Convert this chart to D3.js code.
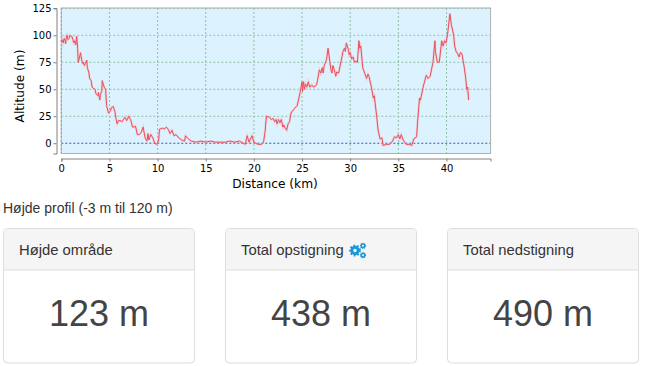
<!DOCTYPE html>
<html><head><meta charset="utf-8">
<script src="https://cdn.jsdelivr.net/npm/d3@7/dist/d3.min.js"></script>
<style>
html,body{margin:0;padding:0;background:#fff;overflow:hidden}
svg{display:block}
.axis text{font-family:"DejaVu Sans";font-size:10px;fill:#000}
.title{font-family:"DejaVu Sans";font-size:12.2px;fill:#000}
.card{font-family:"Liberation Sans";fill:#333}
.big{font-family:"Liberation Sans";fill:#444}
</style></head><body>
<svg id="c" width="646" height="366"></svg>
<script>
const distanceKm=[
0,.1,.2,.3,.4,.45,.5,.6,.7,.8,.9,1,1.1,1.2,1.3,1.4,1.5,1.6,1.7,1.75,1.85,2,2.1,2.2,2.3,2.4,2.5,2.65,2.7,2.85,2.95,3.1,3.2,3.3,3.5,3.6,3.8,3.85,4,4.05,4.2,4.25,4.35,4.45,4.6,4.7,4.9,5.1,5.2,5.4,5.55,5.7,5.8,5.95,6.1,6.3,6.45,6.6,6.8,7,7.2,7.4,7.6,7.7,7.9,8.1,8.3,8.5,8.7,8.9,9,9.1,9.3,9.5,9.7,9.9,10.1,10.2,10.5,10.7,10.9,11.1,11.3,11.5,11.7,11.9,12.2,12.5,12.8,12.9,13.2,13.5,14,14.5,15,15.5,16,17,17.5,18,18.5,18.9,19.1,19.3,19.5,19.8,20,20.4,20.8,21,21.15,
21.3,21.6,21.8,22,22.15,22.3,22.4,22.55,22.7,22.85,23,23.1,23.25,23.4,23.55,23.7,23.85,24.2,24.5,24.8,
25,25.05,25.15,25.25,25.35,25.5,25.65,25.8,26,26.2,26.5,26.6,26.8,26.95,27.1,27.2,27.3,27.45,27.55,27.7,27.85,28,28.1,28.2,28.35,28.5,28.6,28.8,
29.1,29.25,29.4,29.5,29.6,29.8,29.9,30,30.15,30.3,30.45,30.6,30.75,30.9,31,31.1,31.3,31.5,31.7,31.85,31.95,32.2,32.4,32.5,32.75,32.9,33.1,33.3,33.4,33.8,34.1,34.4,34.6,34.8,35,35.15,35.3,35.5,35.8,36.1,36.4,36.6,36.9,37,37.2,37.3,37.6,37.9,38.1,38.3,38.6,38.8,38.85,39.05,39.25,39.5,39.65,39.8,39.95,40.1,40.35,40.5,40.75,40.85,41,41.15,41.3,41.45,41.6,41.85,42,42.1,42.2,42.3];
const altitudeM=[
94,96,93,97,95,92,97,100,96,97,100,99,99,96,93,95,91,99,88,75,78,84,78,74,75,72,74,77,70,66,60,58,52,51,50,46,44,47,40,45,48,58,55,52,50,35,28,30,33,34,30,22,18,21,21,20,22,24,21,25,22,15,15,16,8,8,10,15,5,2,9,3,8,5,0,-1,2,13,14,13,15,13,9,12,7,8,5,3,2,7,4,2,1,2,1,2,1,1,2,1,2,0,-1,7,1,7,1,-1,-1,1,10,
25,24,22,23,20,22,18,22,19,22,15,17,14,12,18,20,28,32,35,47,
57,48,57,50,55,52,57,52,54,52,54,58,68,65,70,65,72,75,78,88,78,68,65,72,68,62,66,65,
78,85,88,85,93,87,82,84,78,80,75,76,75,95,88,90,70,65,60,64,62,52,42,44,25,12,4,5,-2,-1,-1,2,6,5,8,4,8,3,-1,-1,-2,4,6,20,42,40,53,63,60,62,75,95,85,75,75,95,90,95,93,100,120,110,100,90,85,83,80,84,83,70,60,50,52,40];
const xTicks=[0,5,10,15,20,25,30,35,40];
const yTicks=[0,25,50,75,100,125];
const xTitle="Distance (km)", yTitle="Altitude (m)", caption="Højde profil (-3 m til 120 m)";
const cardTitles=["Højde område","Total opstigning","Total nedstigning"];
const cardValues=["123 m","438 m","490 m"];

const svg=d3.select("#c");
const L=61.3,R=490.6,T=8,B=153.5;
const x=d3.scaleLinear().domain([0,44.58]).range([L,R]);
const y=d3.scaleLinear().domain([-9.5,125.3]).range([B,T]);

svg.append("rect").attr("x",L).attr("y",T).attr("width",R-L).attr("height",B-T).attr("fill","#dcf3ff");
const grid=svg.append("g").attr("stroke-dasharray","2,2").attr("stroke-width",1).attr("fill","none");
grid.selectAll(".gx").data(xTicks).join("line").attr("x1",d=>x(d)).attr("x2",d=>x(d)).attr("y1",T).attr("y2",B)
  .attr("stroke",d=>d===0?"#5a7a90":"#8cc2a2");
grid.selectAll(".gy").data(yTicks).join("line").attr("y1",d=>y(d)).attr("y2",d=>y(d)).attr("x1",L).attr("x2",R)
  .attr("stroke",d=>d===0?"#3355bb":"#8cc2a2");
svg.append("rect").attr("x",L).attr("y",T).attr("width",R-L).attr("height",B-T).attr("fill","none").attr("stroke","#b0b0b0");

const line=d3.line().x(d=>x(d[0])).y(d=>y(d[1]));
const pts=distanceKm.map((d,i)=>[d,altitudeM[i]]);
svg.append("path").attr("d",line(pts)).attr("fill","none").attr("stroke","#ffb0b8").attr("stroke-opacity",.45).attr("stroke-width",2.4);
svg.append("path").attr("d",line(pts)).attr("fill","none").attr("stroke","#e8505a").attr("stroke-width",1);

const ax=svg.append("g").attr("class","axis").attr("transform",`translate(0,158.5)`)
  .call(d3.axisBottom(x).tickValues(xTicks).tickSize(3).tickPadding(3));
const ay=svg.append("g").attr("class","axis").attr("transform",`translate(56.5,0)`)
  .call(d3.axisLeft(y).tickValues(yTicks).tickSize(3).tickPadding(2));
[ax,ay].forEach(a=>{a.selectAll("path,line").attr("stroke","#808080");});

svg.append("text").attr("class","title").attr("x",275).attr("y",188).attr("text-anchor","middle").text(xTitle);
svg.append("text").attr("class","title").attr("transform","translate(24,86) rotate(-90)").attr("text-anchor","middle").text(yTitle);

svg.append("text").attr("class","card").attr("x",3).attr("y",213).attr("font-size",14).text(caption);

const cardX=[3.5,225.5,447.5], cardW=191, cardT=228.5, cardH=134.5, headH=41.5;
cardTitles.forEach((t,i)=>{
  const g=svg.append("g").attr("transform",`translate(${cardX[i]},${cardT})`);
  g.append("rect").attr("width",cardW).attr("height",cardH).attr("rx",4).attr("fill","#fff").attr("stroke","#ddd");
  g.append("path").attr("d",`M0.5,${headH}V4a3.5,3.5 0 0 1 3.5,-3.5H${cardW-4}a3.5,3.5 0 0 1 3.5,3.5V${headH}Z`).attr("fill","#f5f5f5");
  g.append("line").attr("x1",0).attr("x2",cardW).attr("y1",headH).attr("y2",headH).attr("stroke","#ddd");
  g.append("text").attr("class","card").attr("x",15.5).attr("y",26.5).attr("font-size",14.8).text(t);
  g.append("text").attr("class","big").attr("x",cardW/2).attr("y",97).attr("text-anchor","middle").attr("font-size",36).text(cardValues[i]);
});

const gear=(cx,cy,r,w)=>{
  const g=svg.append("g").attr("fill","none").attr("stroke","#1b98d5");
  const c=2*Math.PI*r;
  g.append("circle").attr("cx",cx).attr("cy",cy).attr("r",r).attr("stroke-width",w);
  g.append("circle").attr("cx",cx).attr("cy",cy).attr("r",r+w/2).attr("stroke-width",w*.8).attr("stroke-dasharray",`${c/12} ${c/12}`);
};
gear(355,250.5,3.2,3);
gear(363,245.8,1.8,1.5);
gear(363,255.2,1.8,1.5);
</script>
</body></html>
